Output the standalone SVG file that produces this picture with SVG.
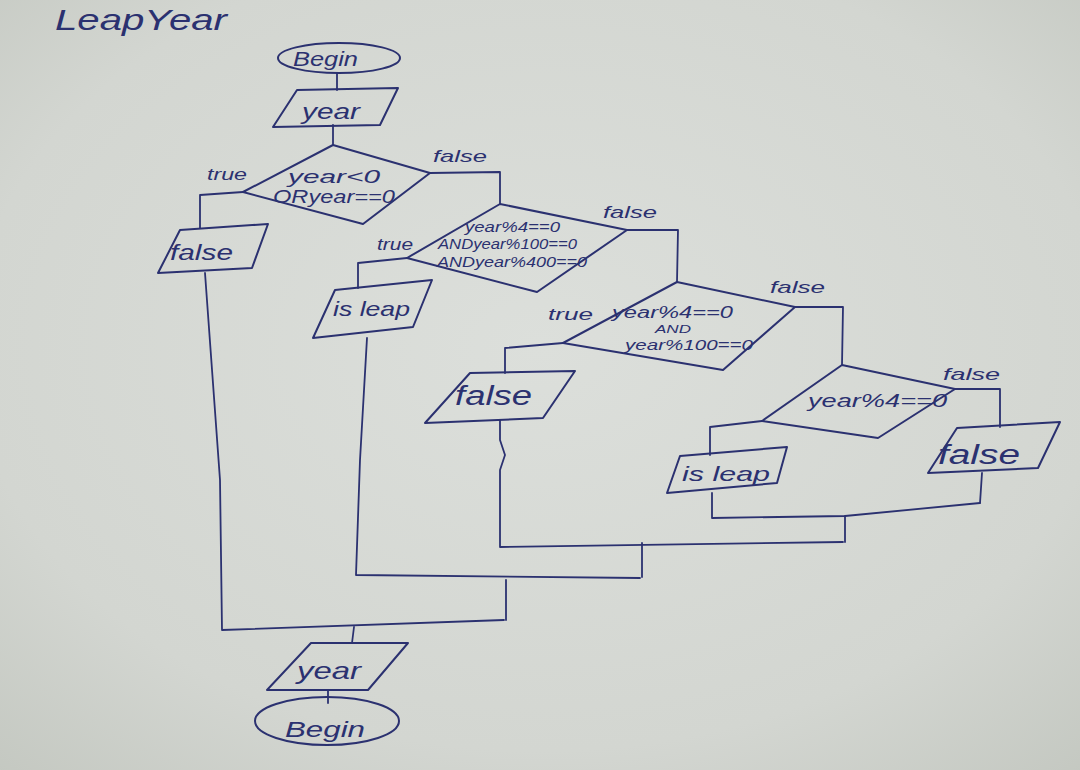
<svg xmlns="http://www.w3.org/2000/svg" width="1080" height="770" viewBox="0 0 1080 770">
<defs>
<radialGradient id="paper" cx="50%" cy="45%" r="75%">
<stop offset="0" stop-color="#dcdfdb"/>
<stop offset="0.7" stop-color="#d3d6d1"/>
<stop offset="1" stop-color="#c4c8c1"/>
</radialGradient>
</defs>
<style>
.s{fill:none;stroke:#2b3170;stroke-width:2;stroke-linejoin:round;stroke-linecap:round}
.c{fill:none;stroke:#2b3170;stroke-width:1.8;stroke-linejoin:round;stroke-linecap:round}
text{font-family:"Liberation Sans","DejaVu Sans",sans-serif;font-style:italic;fill:#2b3170}
.lbl{font-size:17px}
</style>
<rect x="0" y="0" width="1080" height="770" fill="url(#paper)"/>
<text x="55" y="30" font-size="30" textLength="172" lengthAdjust="spacingAndGlyphs">LeapYear</text>

<g id="connectors">
<polyline class="c" points="337,73 337,90"/>
<polyline class="c" points="333,125 333,145"/>
<polyline class="c" points="243,192 200,195 200,228"/>
<polyline class="c" points="430,173 500,172 500,204"/>
<polyline class="c" points="407,258 358,263 358,288"/>
<polyline class="c" points="627,230 678,230 677,282"/>
<polyline class="c" points="563,343 505,348 505,373"/>
<polyline class="c" points="795,307 843,307 842,365"/>
<polyline class="c" points="762,421 710,427 710,455"/>
<polyline class="c" points="955,389 1000,389 1000,427"/>
<polyline class="c" points="205,273 220,480 222,630 504,620"/>
<polyline class="c" points="367,338 360,460 356,575 640,578"/>
<polyline class="c" points="506,580 506,620"/>
<polyline class="c" points="500,420 500,440 505,455 500,470 500,547 843,542"/>
<polyline class="c" points="642,543 642,577"/>
<polyline class="c" points="712,493 712,518 845,516 980,503"/>
<polyline class="c" points="845,516 845,542"/>
<polyline class="c" points="982,473 980,503"/>
<polyline class="c" points="354,627 352,643"/>
<polyline class="c" points="328,690 328,703"/>
<text class="lbl" x="207" y="180" textLength="40" lengthAdjust="spacingAndGlyphs">true</text>
<text class="lbl" x="433" y="162" textLength="54" lengthAdjust="spacingAndGlyphs">false</text>
<text class="lbl" x="377" y="250" textLength="36" lengthAdjust="spacingAndGlyphs">true</text>
<text class="lbl" x="603" y="218" textLength="54" lengthAdjust="spacingAndGlyphs">false</text>
<text class="lbl" x="548" y="320" textLength="45" lengthAdjust="spacingAndGlyphs">true</text>
<text class="lbl" x="770" y="293" textLength="55" lengthAdjust="spacingAndGlyphs">false</text>
<text class="lbl" x="943" y="380" textLength="57" lengthAdjust="spacingAndGlyphs">false</text>
</g>

<g id="begin">
<ellipse class="s" cx="339" cy="58" rx="61" ry="15"/>
<text x="293" y="66" font-size="20" textLength="65" lengthAdjust="spacingAndGlyphs">Begin</text>
</g>
<g id="input-year">
<polygon class="s" points="297,90 398,88 380,125 273,127"/>
<text x="302" y="119" font-size="22" textLength="58" lengthAdjust="spacingAndGlyphs">year</text>
</g>
<g id="decision1">
<polygon class="s" points="333,145 430,173 363,224 243,192"/>
<text x="288" y="183" font-size="19" textLength="92" lengthAdjust="spacingAndGlyphs">year&lt;0</text>
<text x="273" y="203" font-size="19" textLength="122" lengthAdjust="spacingAndGlyphs">ORyear==0</text>
</g>
<g id="false1">
<polygon class="s" points="180,230 268,224 252,268 158,273"/>
<text x="170" y="260" font-size="22" textLength="63" lengthAdjust="spacingAndGlyphs">false</text>
</g>
<g id="decision2">
<polygon class="s" points="500,204 627,230 537,292 407,258"/>
<text x="465" y="232" font-size="14" textLength="95" lengthAdjust="spacingAndGlyphs">year%4==0</text>
<text x="438" y="249" font-size="14" textLength="139" lengthAdjust="spacingAndGlyphs">ANDyear%100==0</text>
<text x="437" y="267" font-size="14" textLength="150" lengthAdjust="spacingAndGlyphs">ANDyear%400==0</text>
</g>
<g id="isleap1">
<polygon class="s" points="335,290 432,280 413,327 313,338"/>
<text x="333" y="316" font-size="21" textLength="77" lengthAdjust="spacingAndGlyphs">is leap</text>
</g>
<g id="decision3">
<polygon class="s" points="677,282 795,307 723,370 563,343"/>
<text x="612" y="318" font-size="16" textLength="121" lengthAdjust="spacingAndGlyphs">year%4==0</text>
<text x="655" y="333" font-size="10" textLength="36" lengthAdjust="spacingAndGlyphs">AND</text>
<text x="625" y="350" font-size="15" textLength="128" lengthAdjust="spacingAndGlyphs">year%100==0</text>
</g>
<g id="false2">
<polygon class="s" points="470,373 575,371 543,418 425,423"/>
<text x="455" y="405" font-size="27" textLength="77" lengthAdjust="spacingAndGlyphs">false</text>
</g>
<g id="decision4">
<polygon class="s" points="842,365 955,389 878,438 762,421"/>
<text x="808" y="407" font-size="19" textLength="139" lengthAdjust="spacingAndGlyphs">year%4==0</text>
</g>
<g id="isleap2">
<polygon class="s" points="680,456 787,447 777,483 667,493"/>
<text x="682" y="481" font-size="21" textLength="88" lengthAdjust="spacingAndGlyphs">is leap</text>
</g>
<g id="false3">
<polygon class="s" points="957,428 1060,422 1038,468 928,473"/>
<text x="938" y="464" font-size="27" textLength="82" lengthAdjust="spacingAndGlyphs">false</text>
</g>
<g id="output-year">
<polygon class="s" points="311,643 408,643 368,690 267,690"/>
<text x="297" y="679" font-size="24" textLength="64" lengthAdjust="spacingAndGlyphs">year</text>
</g>
<g id="end">
<ellipse class="s" cx="327" cy="721" rx="72" ry="24"/>
<text x="285" y="737" font-size="22" textLength="80" lengthAdjust="spacingAndGlyphs">Begin</text>
</g>
</svg>
